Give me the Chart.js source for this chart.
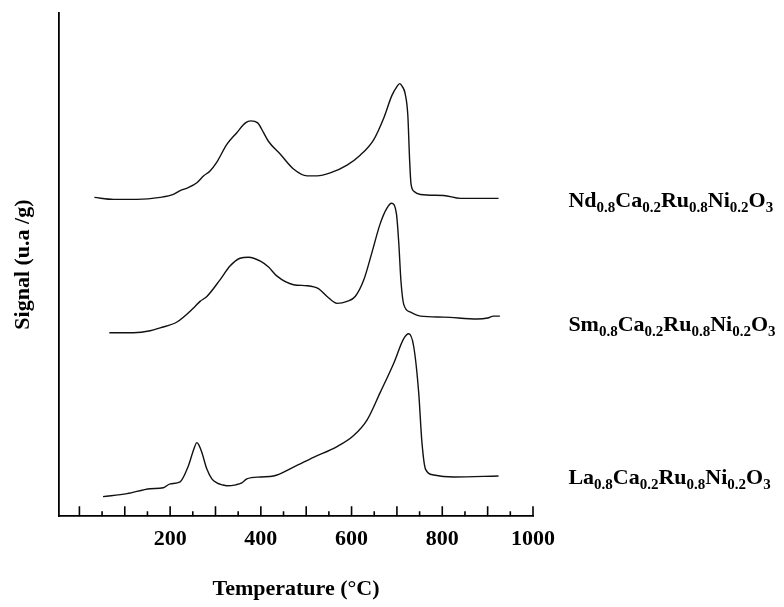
<!DOCTYPE html>
<html>
<head>
<meta charset="utf-8">
<title>TPR profiles</title>
<script src="https://cdn.jsdelivr.net/npm/chart.js@4.4.0/dist/chart.umd.min.js"></script>
<style>
  html, body { margin: 0; padding: 0; background: #fff; }
  #wrap { width: 784px; height: 607px; }
</style>
</head>
<body>
<div id="wrap"><canvas id="tpr" width="784" height="607"></canvas></div>
<script>
// ── Data (temperature in °C, signal in arbitrary units) ─────────────────────

const ndTemp   = [33, 75, 127, 178, 207, 222, 240, 259, 274, 288, 303, 325, 347, 366, 378, 393, 406, 417, 443, 472, 502, 524, 553, 590, 619, 649, 671, 689, 700, 706, 712, 718, 724, 728, 731, 738, 752, 803, 840, 924];
const ndSignal = [325, 323, 323, 325, 328, 332, 335, 340, 347, 352, 361, 379, 391, 401, 403, 401, 391, 382, 369, 354, 347, 347, 350, 358, 368, 384, 406, 429, 438, 441, 438, 431, 409, 363, 339, 331, 328, 327, 324, 324];

const smTemp   = [66, 119, 156, 178, 215, 251, 266, 281, 310, 332, 354, 373, 399, 417, 435, 472, 502, 527, 546, 568, 590, 608, 627, 645, 663, 678, 688, 699, 704, 709, 715, 730, 752, 803, 877, 900, 913, 927];
const smSignal = [187, 187, 189, 192, 198, 212, 219, 224, 241, 255, 263, 264, 260, 254, 245, 236, 235, 232, 224, 217, 219, 224, 241, 269, 298, 314, 319, 308, 279, 239, 216, 208, 204, 203, 201, 202, 204, 204];

const laTemp   = [52, 105, 156, 185, 200, 222, 240, 252, 259, 264, 270, 281, 292, 303, 315, 325, 345, 358, 369, 400, 428, 472, 516, 568, 604, 634, 663, 693, 715, 726, 737, 748, 755, 763, 781, 825, 924];
const laSignal = [20, 23, 28, 29, 33, 35, 51, 68, 75, 72, 65, 48, 38, 34, 32, 31, 32, 34, 38, 40, 41, 50, 60, 71, 82, 98, 126, 156, 181, 186, 173, 126, 76, 48, 42, 40, 41];

const sampleNames = ['Nd0.8Ca0.2Ru0.8Ni0.2O3', 'Sm0.8Ca0.2Ru0.8Ni0.2O3', 'La0.8Ca0.2Ru0.8Ni0.2O3'];
const sampleLabelY = [315, 189, 33];   // baseline of each formula, in signal units
const sampleLabelX = 1078;             // left edge of the formulas, in °C units

const xTickLabels = [200, 400, 600, 800, 1000];
const xMajorTicks = [0, 100, 200, 300, 400, 500, 600, 700, 800, 900, 1000];
const xMinorTicks = [50, 150, 250, 350, 450, 550, 650, 750, 850, 950];

const SERIF = '"Liberation Serif", "Times New Roman", serif';

// ── Helpers ─────────────────────────────────────────────────────────────────

function toPoints(xs, ys) {
  return xs.map((x, i) => ({ x, y: ys[i] }));
}

// Draws a chemical formula: letters normal, numbers as subscripts
function drawFormula(ctx, text, x, y) {
  const parts = text.match(/[A-Za-z]+|[0-9.]+/g);
  let cx = x;
  parts.forEach(p => {
    const isSub = /^[0-9.]/.test(p);
    ctx.font = isSub ? `bold 15px ${SERIF}` : `bold 22px ${SERIF}`;
    ctx.fillText(p, cx, isSub ? y + 5 : y);
    cx += ctx.measureText(p).width;
  });
}

// ── Plugins ─────────────────────────────────────────────────────────────────

const insideTicks = {
  id: 'insideTicks',
  afterDraw(chart) {
    const { ctx, chartArea, scales: { x } } = chart;
    const yb = chartArea.bottom;
    ctx.save();
    ctx.strokeStyle = '#000';
    ctx.lineWidth = 1.6;
    ctx.beginPath();
    xMajorTicks.forEach(v => {
      const px = x.getPixelForValue(v);
      ctx.moveTo(px, yb);
      ctx.lineTo(px, yb - 10);
    });
    xMinorTicks.forEach(v => {
      const px = x.getPixelForValue(v);
      ctx.moveTo(px, yb);
      ctx.lineTo(px, yb - 5);
    });
    ctx.stroke();
    ctx.restore();
  }
};

const formulaLabels = {
  id: 'formulaLabels',
  afterDraw(chart) {
    const { ctx, scales: { x, y } } = chart;
    ctx.save();
    ctx.fillStyle = '#000';
    ctx.textBaseline = 'alphabetic';
    ctx.textAlign = 'left';
    sampleNames.forEach((name, i) => {
      drawFormula(ctx, name, x.getPixelForValue(sampleLabelX), y.getPixelForValue(sampleLabelY[i]));
    });
    ctx.restore();
  }
};

// ── Chart ───────────────────────────────────────────────────────────────────

const lineStyle = {
  borderColor: '#111',
  borderWidth: 1.4,
  pointRadius: 0,
  fill: false,
  cubicInterpolationMode: 'monotone',
};

new Chart(document.getElementById('tpr').getContext('2d'), {
  type: 'line',
  data: {
    datasets: [
      { label: sampleNames[0], data: toPoints(ndTemp, ndSignal), ...lineStyle },
      { label: sampleNames[1], data: toPoints(smTemp, smSignal), ...lineStyle },
      { label: sampleNames[2], data: toPoints(laTemp, laSignal), ...lineStyle },
    ],
  },
  options: {
    responsive: false,
    animation: false,
    layout: { padding: { left: 0, top: 13, right: 251, bottom: 4 } },
    plugins: {
      legend: { display: false },
      tooltip: { enabled: false },
    },
    scales: {
      x: {
        type: 'linear',
        min: -45,
        max: 1000,
        afterBuildTicks: scale => { scale.ticks = xTickLabels.map(v => ({ value: v })); },
        grid: { display: false, drawTicks: false },
        border: { display: true, color: '#000', width: 1.8 },
        ticks: {
          padding: 10,
          color: '#000',
          maxRotation: 0,
          callback: v => String(v),
          font: { family: SERIF, size: 22, weight: 'bold' },
        },
        title: {
          display: true,
          text: 'Temperature (°C)',
          color: '#000',
          padding: { top: 14, bottom: 0 },
          font: { family: SERIF, size: 22, weight: 'bold' },
        },
      },
      y: {
        min: 0,
        max: 513,
        grid: { display: false, drawTicks: false },
        border: { display: true, color: '#000', width: 1.8 },
        ticks: { display: false },
        title: {
          display: true,
          text: 'Signal (u.a /g)',
          color: '#000',
          padding: { top: 10, bottom: 22.6 },
          font: { family: SERIF, size: 22, weight: 'bold' },
        },
      },
    },
  },
  plugins: [insideTicks, formulaLabels],
});
</script>
</body>
</html>
